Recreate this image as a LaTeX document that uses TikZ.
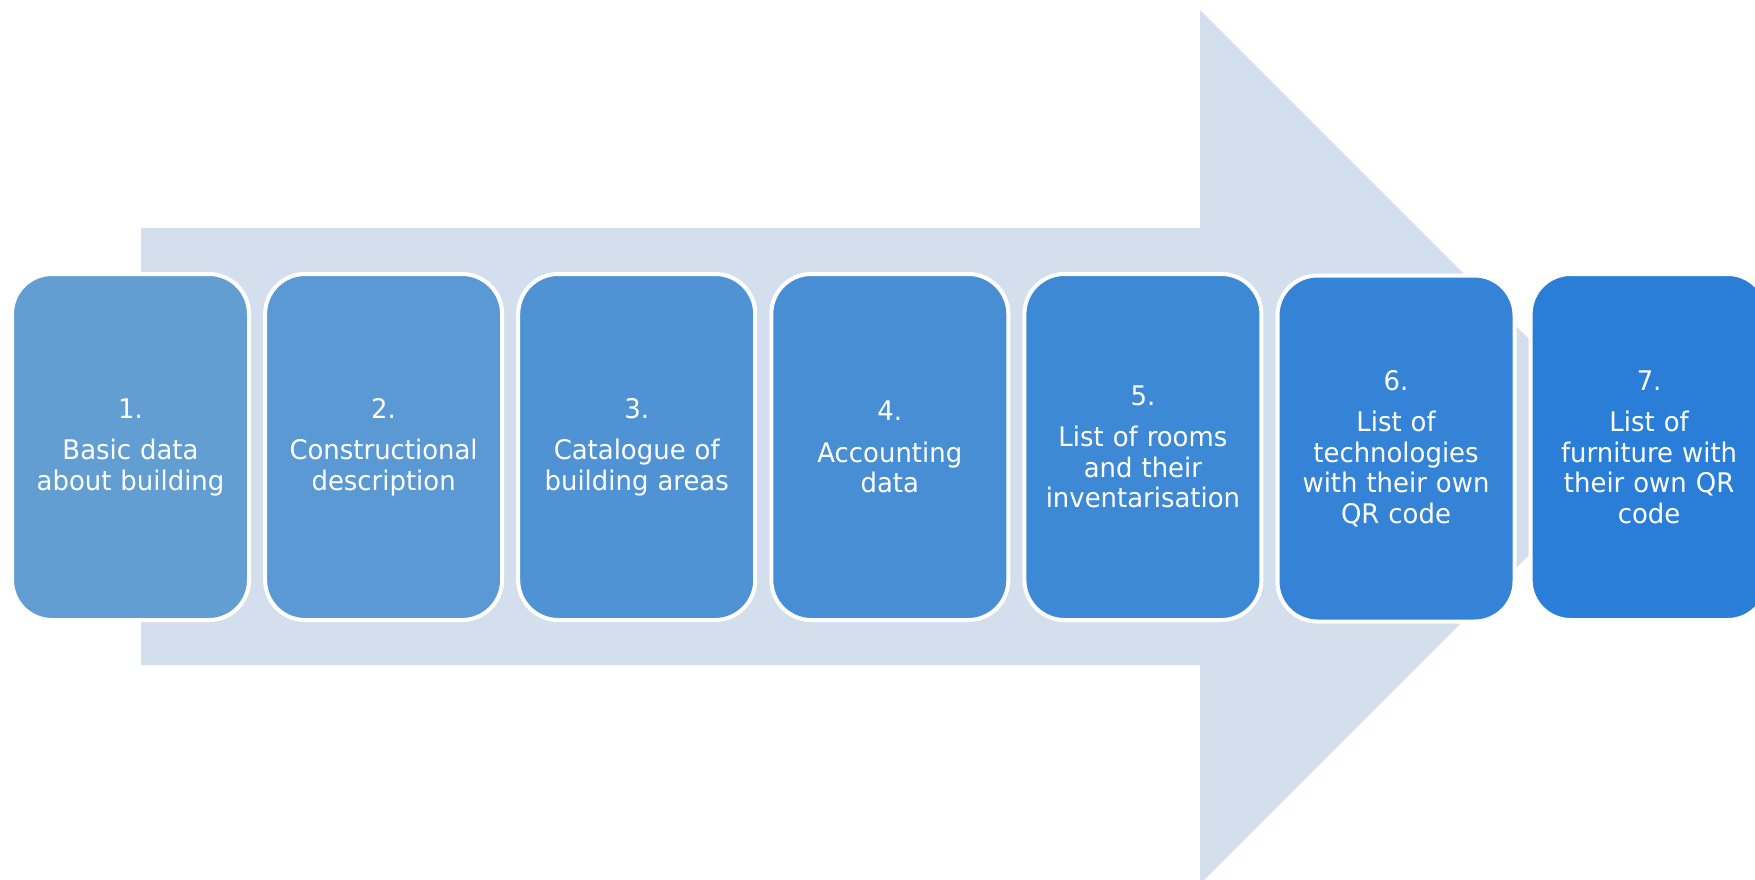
\documentclass[tikz,border=0pt]{standalone}
\usepackage{fontspec}
\setmainfont{DejaVu Sans}[FakeStretch=0.96]
\definecolor{arrowfill}{RGB}{212,223,238}
\definecolor{ca}{RGB}{99,158,210}
\definecolor{cb}{RGB}{90,153,211}
\definecolor{cc}{RGB}{80,147,212}
\definecolor{cd}{RGB}{71,142,213}
\definecolor{ce}{RGB}{61,137,213}
\definecolor{cf}{RGB}{52,131,214}
\definecolor{cg}{RGB}{42,126,215}
\tikzset{
  stepbox/.style={draw=white, line width=4pt, rounded corners=40pt,
    minimum width=237pt, minimum height=346pt, inner sep=0pt,
    text=white, align=center, text width=225pt,
    font=\fontsize{27}{30.5}\selectfont}
}
\newcommand{\numgap}{\\[11pt]}
\begin{document}
\begin{tikzpicture}[x=1pt,y=-1pt]
\useasboundingbox (0,0) rectangle (1755,879);
\fill[arrowfill] (141,228) -- (1200,228) -- (1200,10) -- (1637,447)
  -- (1200,884) -- (1200,665) -- (141,665) -- cycle;
\node[stepbox, fill=ca] (b1) at (130.5,447) {1.\numgap Basic data\\about building};
\node[stepbox, fill=cb] (b2) at (383.6,447) {2.\numgap Constructional\\description};
\node[stepbox, fill=cc] (b3) at (636.7,447) {3.\numgap Catalogue of\\building areas};
\node[stepbox, fill=cd] (b4) at (889.8,447) {4.\numgap Accounting\\data};
\node[stepbox, fill=ce] (b5) at (1142.9,447) {5.\numgap List of rooms\\and their\\inventarisation};
\node[stepbox, fill=cf] (b6) at (1396,448.5) {6.\numgap List of\\technologies\\with their own\\QR code};
\node[stepbox, fill=cg] (b7) at (1649.1,447) {7.\numgap List of\\furniture with\\their own QR\\code};
\end{tikzpicture}
\end{document}
